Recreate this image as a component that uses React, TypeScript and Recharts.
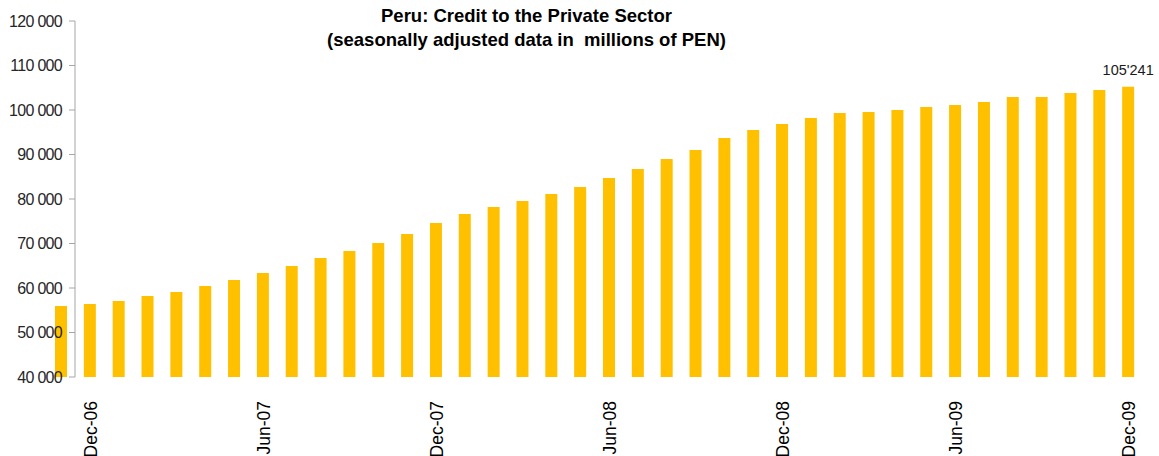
import React from 'react';
import { BarChart, Bar, XAxis, YAxis } from 'recharts';

const months = [
  'Nov-06', 'Dec-06', 'Jan-07', 'Feb-07', 'Mar-07', 'Apr-07', 'May-07', 'Jun-07', 'Jul-07', 'Aug-07', 'Sep-07', 'Oct-07',
  'Nov-07', 'Dec-07', 'Jan-08', 'Feb-08', 'Mar-08', 'Apr-08', 'May-08', 'Jun-08', 'Jul-08', 'Aug-08', 'Sep-08', 'Oct-08',
  'Nov-08', 'Dec-08', 'Jan-09', 'Feb-09', 'Mar-09', 'Apr-09', 'May-09', 'Jun-09', 'Jul-09', 'Aug-09', 'Sep-09', 'Oct-09',
  'Nov-09', 'Dec-09',
];

const credit = [
  55950, 56400, 57080, 58200, 59100, 60450, 61800, 63370, 64940, 66740, 68310, 70110,
  72130, 74600, 76630, 78200, 79550, 81120, 82700, 84720, 86740, 88990, 91000, 93700,
  95500, 96850, 98200, 99320, 99550, 100000, 100670, 101120, 101800, 102900, 102900, 103800,
  104500, 105241,
];

const labeledMonths = ['Dec-06', 'Jun-07', 'Dec-07', 'Jun-08', 'Dec-08', 'Jun-09', 'Dec-09'];
const yTicks = [40000, 50000, 60000, 70000, 80000, 90000, 100000, 110000, 120000];

const titleLines = ['Peru: Credit to the Private Sector', '(seasonally adjusted data in\u00a0 millions of PEN)'];

const data = months.map((m, i) => ({ month: m, value: credit[i] }));

const FONT = '"Liberation Sans", Arial, sans-serif';

const fmtY = (v: number) => {
  const s = String(v);
  return s.slice(0, s.length - 3) + ' ' + s.slice(-3);
};
const fmtLabel = (v: number) => {
  const s = String(v);
  return s.slice(0, s.length - 3) + "'" + s.slice(-3);
};

const XTick = (props: any) => {
  const { x, y, payload } = props;
  if (!labeledMonths.includes(payload.value)) return null;
  return (
    <text
      x={0}
      y={0}
      dy="0.36em"
      textAnchor="end"
      transform={`translate(${x},${y + 16}) rotate(-90)`}
      fontFamily={FONT}
      fontSize={17.5}
      fill="#000"
    >
      {payload.value}
    </text>
  );
};

const LastLabel = (props: any) => {
  const { x, y, width, index, value } = props;
  if (index !== credit.length - 1) return null;
  return (
    <text x={x + width / 2} y={y - 12} textAnchor="middle" fontFamily={FONT} fontSize={14.5} fill="#1a1a1a">
      {fmtLabel(value)}
    </text>
  );
};

export default function App() {
  return (
    <div style={{ position: 'absolute', left: 0, top: 0, width: 1159, height: 456, background: '#fff' }}>
      <div
        style={{
          position: 'absolute',
          left: 0,
          top: 4,
          width: 1053,
          textAlign: 'center',
          fontFamily: FONT,
          fontWeight: 'bold',
          fontSize: 18.5,
          lineHeight: '23.5px',
          color: '#000',
          whiteSpace: 'pre',
        }}
      >
        {titleLines.map((t) => (
          <div key={t}>{t}</div>
        ))}
      </div>
      <BarChart
        width={1159}
        height={456}
        data={data}
        margin={{ top: 21, right: 16, bottom: 0, left: 0 }}
        barCategoryGap={0}
      >
        <XAxis
          dataKey="month"
          interval={0}
          axisLine={false}
          tickLine={false}
          height={79}
          padding={{ left: -28, right: 0 }}
          tick={<XTick />}
        />
        <YAxis
          domain={[40000, 120000]}
          ticks={yTicks}
          allowDataOverflow
          width={75}
          tickFormatter={fmtY}
          axisLine={{ stroke: '#A6A6A6', strokeWidth: 1 }}
          tickLine={{ stroke: '#A6A6A6', strokeWidth: 1 }}
          tickSize={6}
          tickMargin={7}
          tick={{ fontFamily: FONT, fontSize: 16, fill: '#262626', letterSpacing: -0.7 }}
        />
        <Bar dataKey="value" fill="#FFC000" barSize={12} isAnimationActive={false} label={<LastLabel />} />
      </BarChart>
    </div>
  );
}
